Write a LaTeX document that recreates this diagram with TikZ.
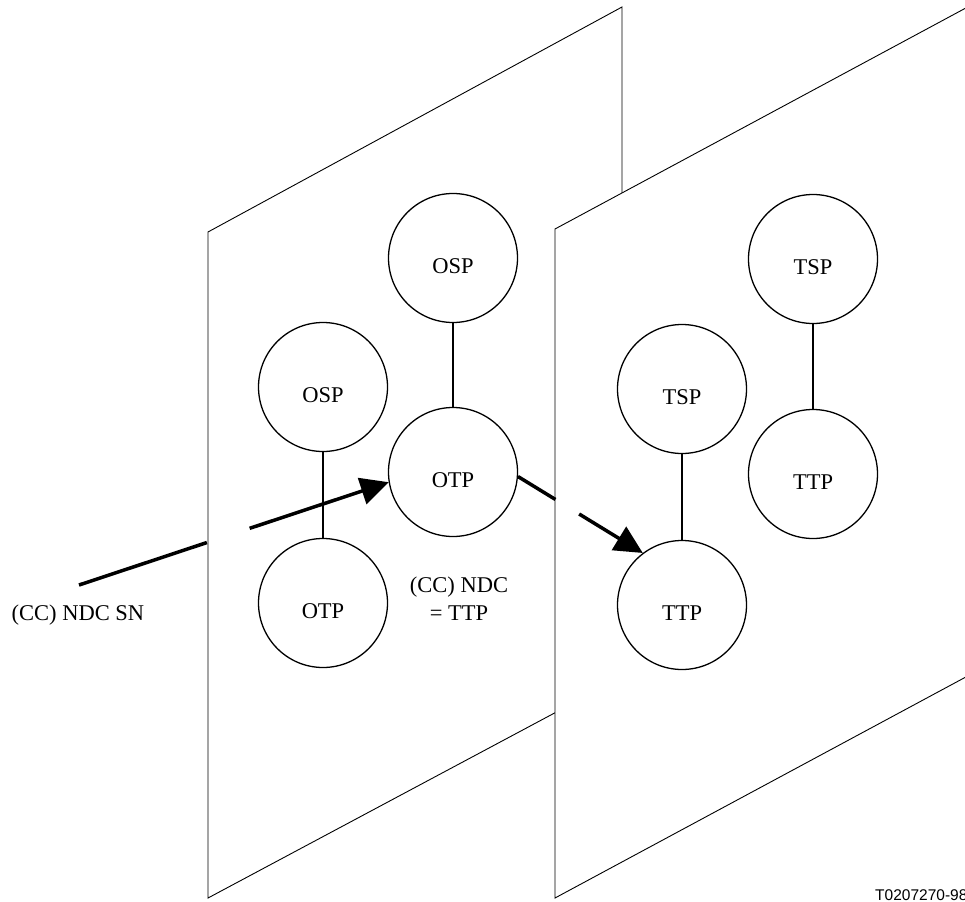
\documentclass[tikz,border=0pt]{standalone}
\usepackage{fontspec}
\setmainfont{Liberation Serif}
\newfontfamily\tagfont{Liberation Sans}
\usetikzlibrary{arrows.meta,calc}

\begin{document}
\begin{tikzpicture}[x=1pt, y=-1pt,
    nodes = {font=\fontsize{22.5}{28}\selectfont},
    plane/.style = {draw=black, fill=white, line width=0.9pt},
    point/.style = {circle, draw=black, line width=1.3pt, minimum size=129pt,
      inner sep=0pt, text height=31pt, text depth=0pt},
    link/.style = {line width=1.8pt},
    flow/.style = {line width=3.5pt},
    flowtip/.style = {flow, -{Triangle[length=28pt,width=27pt]}}
  ]
  \useasboundingbox (0,0) rectangle (965,901);
  % Back plane (origin side)
  \draw[plane] (208,232) -- (622,7) -- (622,677) -- (208,898) -- cycle;
  \foreach \name/\px/\py/\txt in {
      osp1/323/387/OSP,
      otp1/323/603/OTP,
      osp2/453/258/OSP,
      otp2/453/472/OTP
    } {
      \node[point] (\name) at (\px,\py) {\txt};
    }
  \foreach \a/\b in {osp1/otp1, osp2/otp2}
    \draw[link] (\a) -- (\b);
  % Incoming number, broken where it passes the plane edge
  \coordinate (sn) at (79,585);
  \draw[flow] (sn) -- ($(sn)!0.413!(otp2.189)$);
  \draw[flowtip] ($(sn)!0.551!(otp2.189)$) -- (otp2.189);
  % Front plane (terminating side)
  \draw[plane] (555,229) -- (990,-5) -- (990,664) -- (555,898) -- cycle;
  \foreach \name/\px/\py/\txt in {
      tsp1/682/389/TSP,
      ttp1/682/605/TTP,
      tsp2/813/259/TSP,
      ttp2/813/474/TTP
    } {
      \node[point] (\name) at (\px,\py) {\txt};
    }
  \foreach \a/\b in {tsp1/ttp1, tsp2/ttp2}
    \draw[link] (\a) -- (\b);
  % Onward number, broken at the front plane edge
  \draw[flow] (otp2.-4) -- ($(otp2.-4)!0.30!(ttp1.127)$);
  \draw[flowtip] ($(otp2.-4)!0.49!(ttp1.127)$) -- (ttp1.127);
  % Labels
  \node (snlabel) at (78,615) {(CC) NDC SN};
  \node[align=center] (ndclabel) at (459,599) {(CC) NDC\\= TTP};
  \node[anchor=base west, inner sep=0pt, font=\tagfont\fontsize{15.5}{18}\selectfont]
    (tag) at (875,900) {T0207270-98};
\end{tikzpicture}
\end{document}
